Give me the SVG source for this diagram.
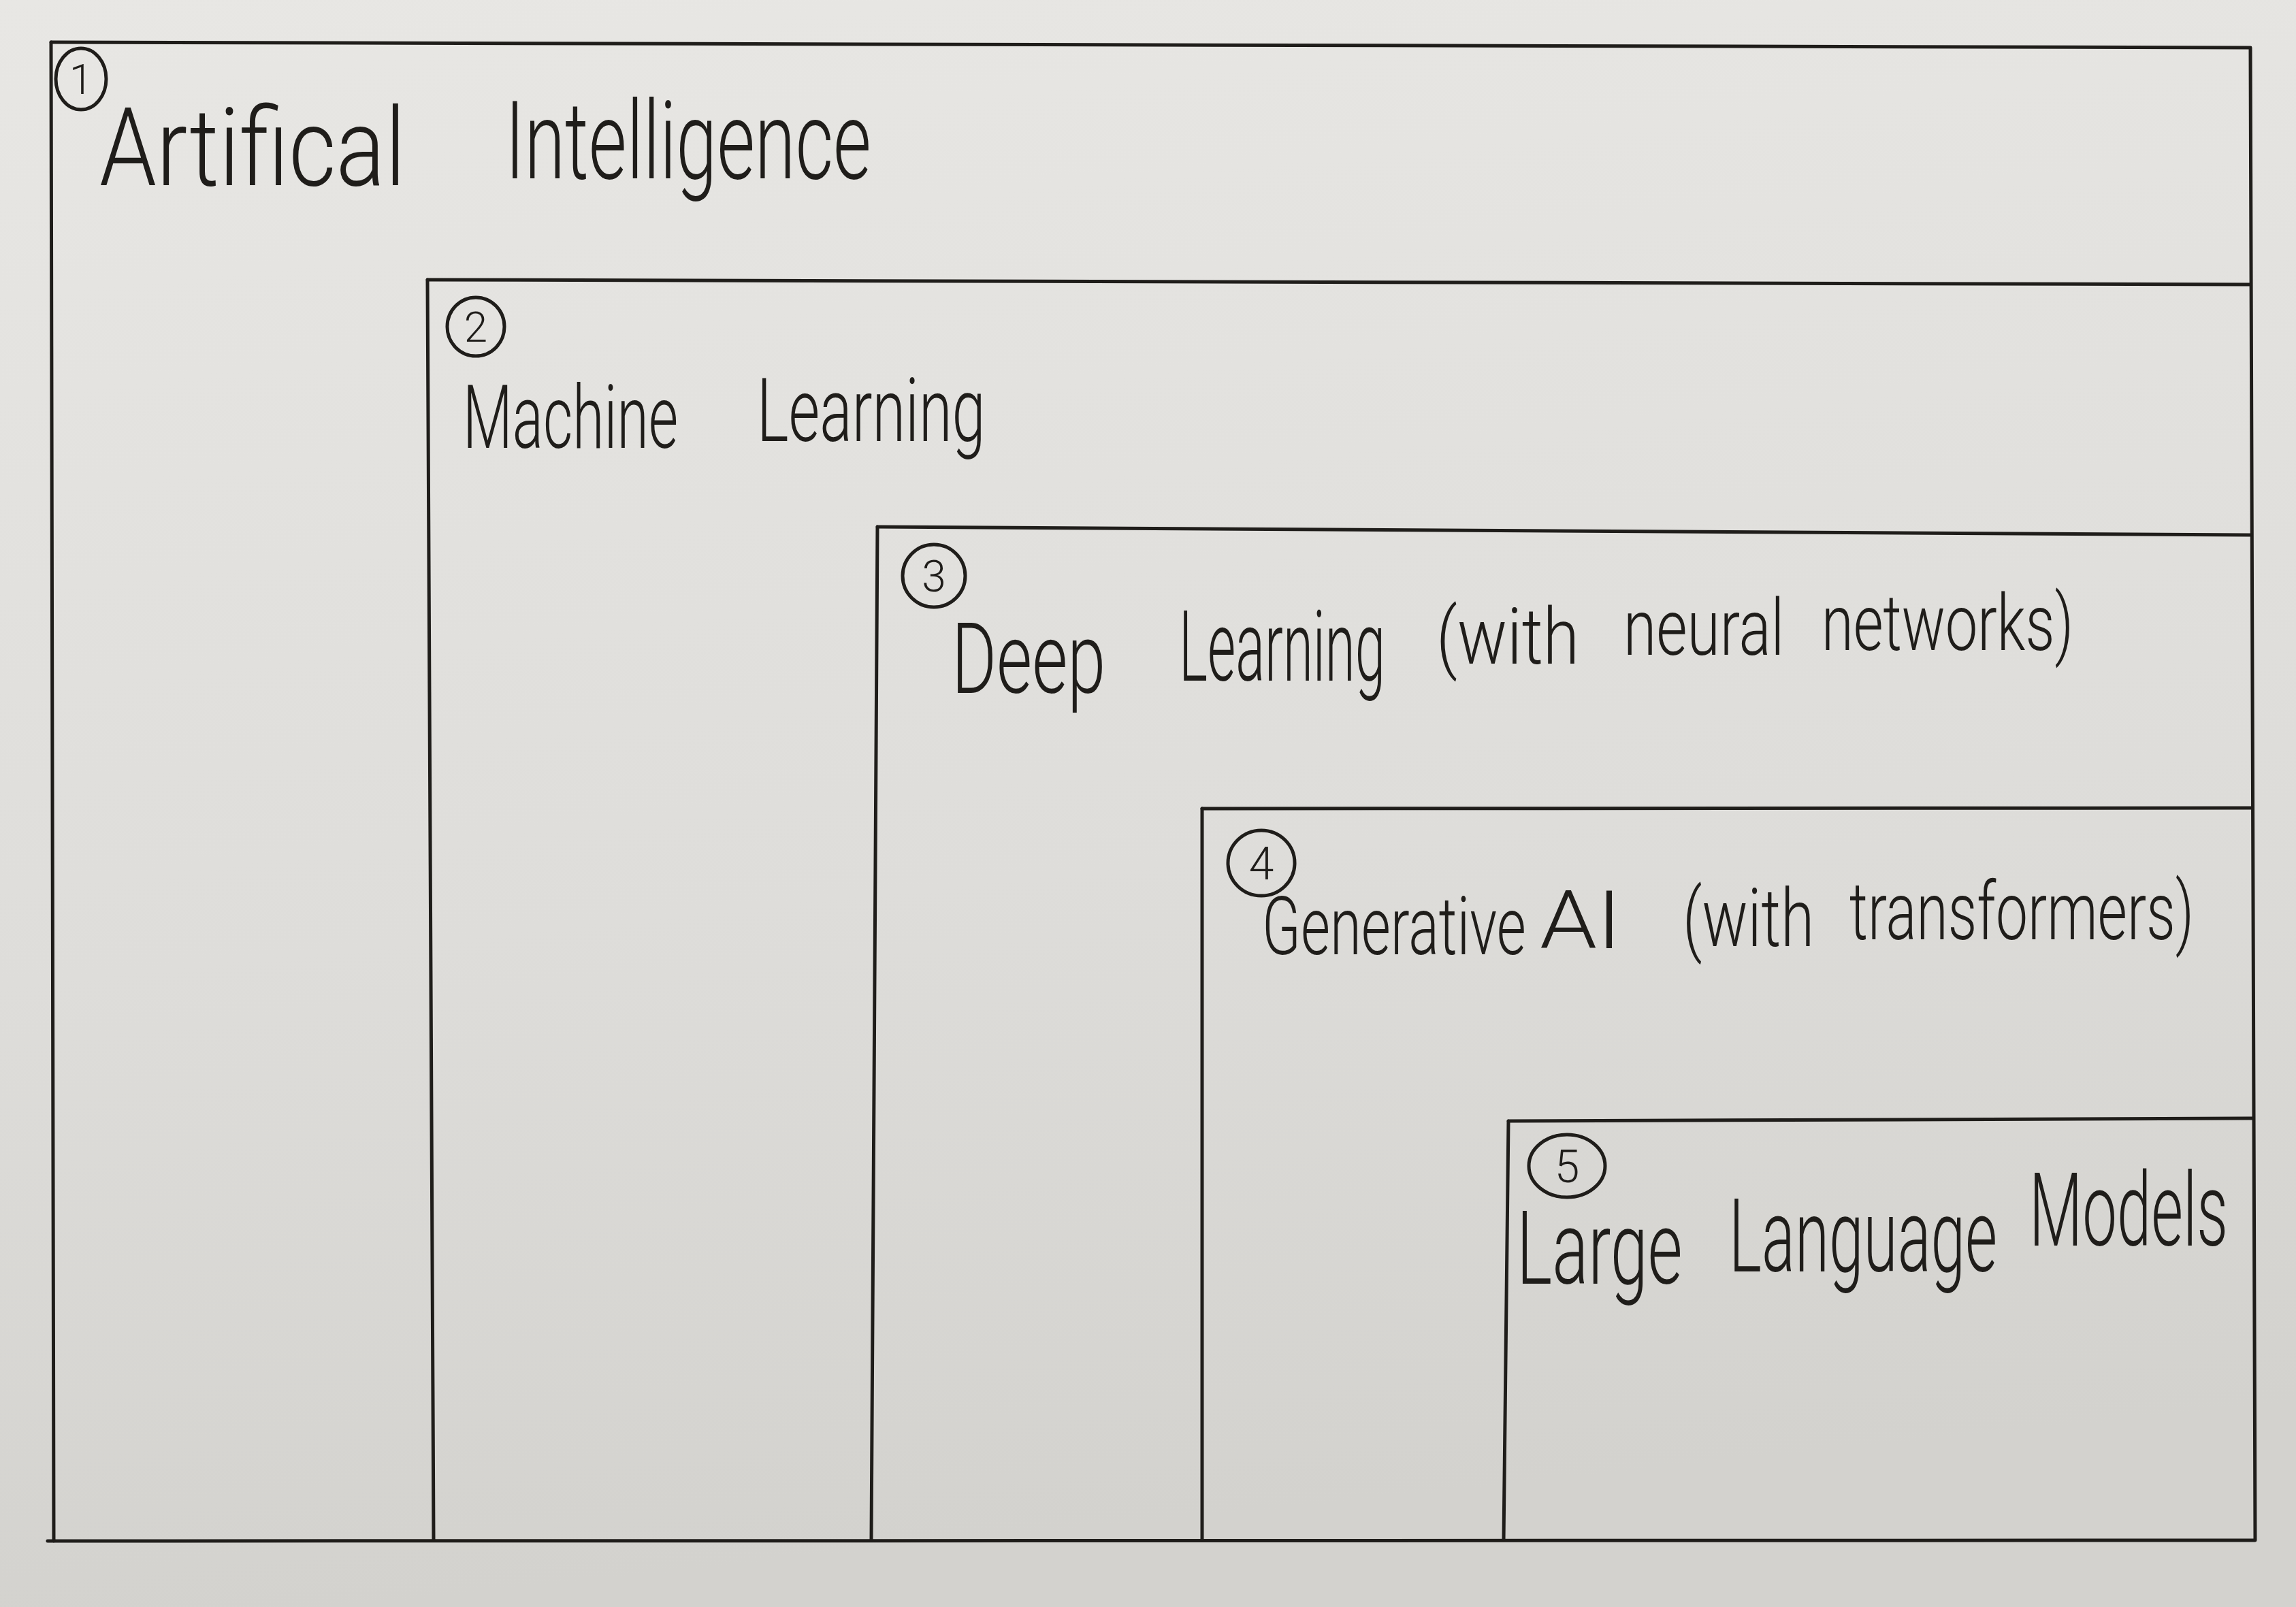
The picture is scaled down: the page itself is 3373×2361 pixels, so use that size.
<svg xmlns="http://www.w3.org/2000/svg" width="3373" height="2361" viewBox="0 0 3373 2361">
  <defs>
    <linearGradient id="paper" x1="0" y1="0" x2="0.15" y2="1">
      <stop offset="0" stop-color="#e8e7e4"/>
      <stop offset="0.6" stop-color="#dedddA"/>
      <stop offset="1" stop-color="#d3d2ce"/>
    </linearGradient>
  </defs>
  <style>
    .edge { fill: none; stroke: #1f1d1a; stroke-width: 5; stroke-linecap: round; stroke-linejoin: round; }
    .badge { fill: none; stroke: #1f1d1a; stroke-width: 5; }
    .num { font-family: Roboto, Lato, "Liberation Sans", sans-serif; font-weight: 300; fill: #1f1d1a; text-anchor: middle; }
    .label { font-family: Roboto, Lato, "Liberation Sans", sans-serif; font-weight: 300; fill: #1f1d1a; }
  </style>

  <!-- sheet of paper -->
  <rect x="0" y="0" width="3373" height="2361" fill="url(#paper)"/>

  <!-- pen lines: the nested frames share the right and bottom edges -->
  <g id="connectors">
    <path class="edge" d="M75 62 L3306 70 L3313 2263 L70 2264"/>
    <path class="edge" d="M75 62 L79 2264"/>
    <path class="edge" d="M628 411 L3305 418"/>
    <path class="edge" d="M628 411 L637 2262"/>
    <path class="edge" d="M1289 774 L3307 786"/>
    <path class="edge" d="M1289 774 L1280 2262"/>
    <path class="edge" d="M1766 1188 L3307 1187"/>
    <path class="edge" d="M1766 1188 L1766 2262"/>
    <path class="edge" d="M2216 1647 L3309 1643"/>
    <path class="edge" d="M2216 1647 L2209 2262"/>
  </g>

  <!-- 1: Artificial Intelligence (narrow hand lettering: words squeezed horizontally) -->
  <g id="ai">
    <ellipse class="badge" cx="119" cy="116" rx="37" ry="45"/>
    <text class="num" x="119" y="138" font-size="62">1</text>
    <text class="label" font-size="160" transform="translate(146 272) scale(0.815 1)" textLength="552" lengthAdjust="spacingAndGlyphs">Artifical</text>
    <text class="label" font-size="160" transform="translate(742 262) scale(0.66 1)" textLength="815" lengthAdjust="spacingAndGlyphs">Intelligence</text>
  </g>

  <!-- 2: Machine Learning -->
  <g id="ml">
    <ellipse class="badge" cx="699" cy="480" rx="42" ry="43"/>
    <text class="num" x="699" y="502" font-size="62">2</text>
    <text class="label" font-size="130" transform="translate(680 658) scale(0.64 1)" textLength="494" lengthAdjust="spacingAndGlyphs">Machine</text>
    <text class="label" font-size="130" transform="translate(1112 648) scale(0.67 1)" textLength="501" lengthAdjust="spacingAndGlyphs">Learning</text>
  </g>

  <!-- 3: Deep Learning -->
  <g id="dl">
    <ellipse class="badge" cx="1372" cy="846" rx="46" ry="46"/>
    <text class="num" x="1372" y="869" font-size="64">3</text>
    <text class="label" font-size="145" transform="translate(1398 1018) scale(0.69 1)" textLength="328" lengthAdjust="spacingAndGlyphs">Deep</text>
    <text class="label" font-size="145" transform="translate(1732 1000) scale(0.54 1)" textLength="561" lengthAdjust="spacingAndGlyphs">Learning</text>
    <text class="label" font-size="115" transform="translate(2110 975) scale(0.83 1)" textLength="253" lengthAdjust="spacingAndGlyphs">(with</text>
    <text class="label" font-size="115" transform="translate(2385 962) scale(0.75 1)" textLength="315" lengthAdjust="spacingAndGlyphs">neural</text>
    <text class="label" font-size="115" transform="translate(2676 955) scale(0.73 1)" textLength="507" lengthAdjust="spacingAndGlyphs">networks)</text>
  </g>

  <!-- 4: Generative AI -->
  <g id="genai">
    <ellipse class="badge" cx="1853" cy="1268" rx="49" ry="48"/>
    <text class="num" x="1853" y="1292" font-size="66">4</text>
    <text class="label" font-size="118" transform="translate(1854 1402) scale(0.69 1)" textLength="562" lengthAdjust="spacingAndGlyphs">Generative</text>
    <text class="label" font-size="118" transform="translate(2262 1393)" textLength="120" lengthAdjust="spacingAndGlyphs">AI</text>
    <text class="label" font-size="118" transform="translate(2472 1390) scale(0.74 1)" textLength="261" lengthAdjust="spacingAndGlyphs">(with</text>
    <text class="label" font-size="118" transform="translate(2717 1380) scale(0.70 1)" textLength="723" lengthAdjust="spacingAndGlyphs">transformers)</text>
  </g>

  <!-- 5: Large Language Models -->
  <g id="llm">
    <ellipse class="badge" cx="2302" cy="1713" rx="56" ry="46"/>
    <text class="num" x="2302" y="1737" font-size="66">5</text>
    <text class="label" font-size="150" transform="translate(2228 1886) scale(0.65 1)" textLength="375" lengthAdjust="spacingAndGlyphs">Large</text>
    <text class="label" font-size="150" transform="translate(2540 1868) scale(0.60 1)" textLength="657" lengthAdjust="spacingAndGlyphs">Language</text>
    <text class="label" font-size="150" transform="translate(2981 1830) scale(0.59 1)" textLength="495" lengthAdjust="spacingAndGlyphs">Models</text>
  </g>
</svg>
